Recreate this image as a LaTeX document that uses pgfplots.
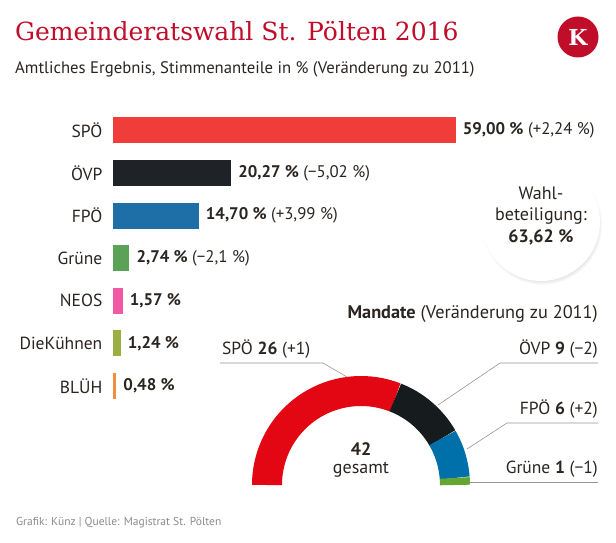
\documentclass[border=0pt]{standalone}
\usepackage{pgfplots}
\pgfplotsset{compat=1.18}
\usepackage{fontspec}
\setmainfont{PT Sans}
\newfontfamily\titlefont{DejaVu Serif}
\usetikzlibrary{shadows}
\definecolor{txt}{RGB}{43,37,33}
\definecolor{titlered}{RGB}{192,14,42}
\definecolor{cSPOe}{RGB}{240,61,58}
\definecolor{cOEVP}{RGB}{31,35,40}
\definecolor{cFPOe}{RGB}{30,110,168}
\definecolor{cGruene}{RGB}{90,163,86}
\definecolor{cNEOS}{RGB}{243,88,164}
\definecolor{cDK}{RGB}{154,174,66}
\definecolor{cBLUEH}{RGB}{244,140,66}
\definecolor{dSPOe}{RGB}{227,6,19}
\definecolor{dOEVP}{RGB}{22,28,30}
\definecolor{dFPOe}{RGB}{0,112,170}
\definecolor{dGruene}{RGB}{100,166,48}
\definecolor{leader}{RGB}{150,150,150}
\begin{document}
\begin{tikzpicture}
\useasboundingbox (0pt,0pt) rectangle (616pt,543pt);
\fill[white] (0pt,0pt) rectangle (616pt,543pt);
% bars
\begin{axis}[
  at={(113.5pt,157pt)}, anchor=origin,
  scale only axis, width=348pt, height=298.2pt,
  xmin=0, xmax=60, ymin=-0.5, ymax=6.5,
  axis line style={draw=none}, tick style={draw=none},
  xtick=\empty, ytick=\empty, clip=false,
  xbar, bar width=26pt, bar shift=0pt,
  point meta=explicit symbolic,
  nodes near coords,
  nodes near coords style={anchor=west, inner sep=0pt, xshift=7pt, text=txt, font=\fontsize{16.8}{18}\selectfont},
]
\addplot[draw=none, fill=cSPOe] coordinates {(59.00,6) [\textbf{59,00 \%} (+2,24 \%)]};
\addplot[draw=none, fill=cOEVP] coordinates {(20.27,5) [\textbf{20,27 \%} (−5,02 \%)]};
\addplot[draw=none, fill=cFPOe] coordinates {(14.70,4) [\textbf{14,70 \%} (+3,99 \%)]};
\addplot[draw=none, fill=cGruene] coordinates {(2.74,3) [\textbf{2,74 \%} (−2,1 \%)]};
\addplot[draw=none, fill=cNEOS] coordinates {(1.57,2) [\textbf{1,57 \%}]};
\addplot[draw=none, fill=cDK] coordinates {(1.24,1) [\textbf{1,24 \%}]};
\addplot[draw=none, fill=cBLUEH] coordinates {(0.48,0) [\textbf{0,48 \%}]};
\node[anchor=east, inner sep=0pt, text=txt, font=\fontsize{17.5}{19}\selectfont] at (axis cs:0,6) [xshift=-11pt] {SPÖ};
\node[anchor=east, inner sep=0pt, text=txt, font=\fontsize{17.5}{19}\selectfont] at (axis cs:0,5) [xshift=-11pt] {ÖVP};
\node[anchor=east, inner sep=0pt, text=txt, font=\fontsize{17.5}{19}\selectfont] at (axis cs:0,4) [xshift=-11pt] {FPÖ};
\node[anchor=east, inner sep=0pt, text=txt, font=\fontsize{17.5}{19}\selectfont] at (axis cs:0,3) [xshift=-11pt] {Grüne};
\node[anchor=east, inner sep=0pt, text=txt, font=\fontsize{17.5}{19}\selectfont] at (axis cs:0,2) [xshift=-11pt] {NEOS};
\node[anchor=east, inner sep=0pt, text=txt, font=\fontsize{17.5}{19}\selectfont] at (axis cs:0,1) [xshift=-11pt] {DieKühnen};
\node[anchor=east, inner sep=0pt, text=txt, font=\fontsize{17.5}{19}\selectfont] at (axis cs:0,0) [xshift=-11pt] {BLÜH};
\end{axis}
\pgfmathsetmacro{\aA}{180-26/42*180}
\pgfmathsetmacro{\aB}{\aA-9/42*180}
\pgfmathsetmacro{\aC}{\aB-6/42*180}
\pgfmathsetmacro{\aD}{\aC-1/42*180}
\begin{axis}[
  at={(361pt,58pt)}, anchor=origin,
  scale only axis, width=218pt, height=109pt,
  xmin=-1, xmax=1, ymin=0, ymax=1,
  axis line style={draw=none}, tick style={draw=none},
  xtick=\empty, ytick=\empty, clip=false,
]
\draw[line width=30pt, dSPOe] (axis cs:0,0) ++(180:94pt) arc[start angle=180, end angle=\aA, radius=94pt];
\draw[line width=30pt, dOEVP] (axis cs:0,0) ++(\aA:94pt) arc[start angle=\aA, end angle=\aB, radius=94pt];
\draw[line width=30pt, dFPOe] (axis cs:0,0) ++(\aB:94pt) arc[start angle=\aB, end angle=\aC, radius=94pt];
\draw[line width=30pt, dGruene] (axis cs:0,0) ++(\aC:94pt) arc[start angle=\aC, end angle=\aD, radius=94pt];
\end{axis}
\begin{scope}[x=1pt,y=1pt]
% title
\node[anchor=base west, inner sep=0pt, text=titlered, font=\titlefont\fontsize{25}{27}\selectfont] at (15,{543-41}) {Gemeinderatswahl St. Pölten 2016};
\node[anchor=base west, inner sep=0pt, text=txt, font=\fontsize{16.7}{18}\selectfont] at (15,{543-74}) {Amtliches Ergebnis, Stimmenanteile in \% (Veränderung zu 2011)};
% logo
\fill[titlered] (578,{543-37}) circle (20.5);
\node[text=white, font=\titlefont\bfseries\fontsize{22}{22}\selectfont, inner sep=0pt] at (578,{543-37}) {K};
% turnout circle
\fill[white, circular drop shadow={shadow xshift=1pt, shadow yshift=-2.5pt, opacity=0.4, shadow scale=1.02}] (541,{543-222}) circle (59);
\node[anchor=base, inner sep=0pt, text=txt, font=\fontsize{18}{19}\selectfont] at (541,{543-200}) {Wahl-};
\node[anchor=base, inner sep=0pt, text=txt, font=\fontsize{18}{19}\selectfont] at (541,{543-221}) {beteiligung:};
\node[anchor=base, inner sep=0pt, text=txt, font=\bfseries\fontsize{18}{19}\selectfont] at (541,{543-243}) {63,62 \%};
% Mandate
\node[anchor=base east, inner sep=0pt, text=txt, font=\fontsize{18.3}{19}\selectfont] at (598,{543-319}) {\textbf{Mandate} (Veränderung zu 2011)};
\node[anchor=base, inner sep=0pt, text=txt, font=\bfseries\fontsize{18}{19}\selectfont] at (361,{543-456}) {42};
\node[anchor=base, inner sep=0pt, text=txt, font=\fontsize{18}{19}\selectfont] at (361,{543-474}) {gesamt};
\draw[leader, line width=0.6pt] (220,{543-363}) -- (323,{543-363}) -- (347,{543-377});
\draw[leader, line width=0.6pt] (598,{543-363}) -- (500,{543-363}) -- (438,{543-405});
\draw[leader, line width=0.6pt] (598,{543-423}) -- (507,{543-423}) -- (467,{543-449});
\draw[leader, line width=0.6pt] (598,{543-482}) -- (470,{543-482});
\node[anchor=base west, inner sep=0pt, text=txt, font=\fontsize{17.5}{19}\selectfont] at (222,{543-355}) {SPÖ \textbf{26} (+1)};
\node[anchor=base east, inner sep=0pt, text=txt, font=\fontsize{17.5}{19}\selectfont] at (598,{543-355}) {ÖVP \textbf{9} (−2)};
\node[anchor=base east, inner sep=0pt, text=txt, font=\fontsize{17.5}{19}\selectfont] at (598,{543-415}) {FPÖ \textbf{6} (+2)};
\node[anchor=base east, inner sep=0pt, text=txt, font=\fontsize{17.5}{19}\selectfont] at (598,{543-474}) {Grüne \textbf{1} (−1)};
% footer
\node[anchor=base west, inner sep=0pt, text={rgb,255:red,140;green,140;blue,140}, font=\fontsize{11.5}{13}\selectfont] at (16,{543-526}) {Grafik: Künz | Quelle: Magistrat St. Pölten};
\end{scope}
\end{tikzpicture}
\end{document}
